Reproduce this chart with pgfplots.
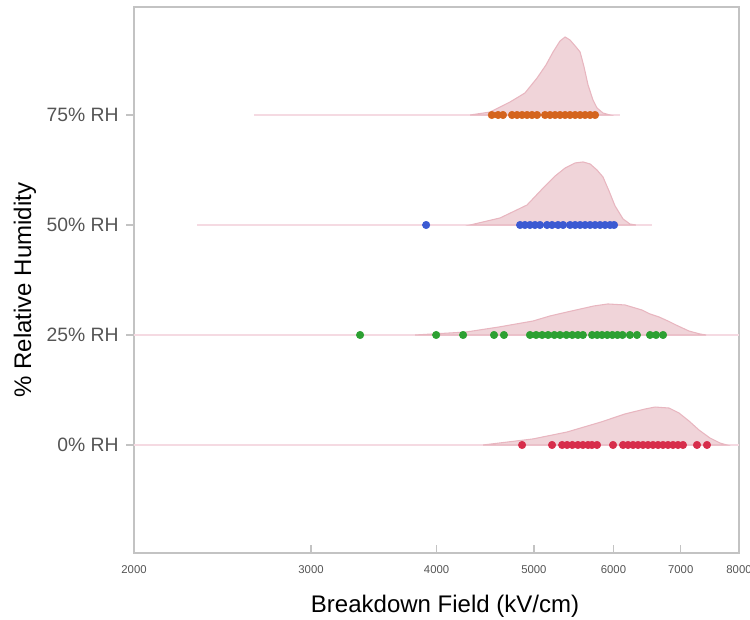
\documentclass[border=0pt]{standalone}
\usepackage{fontspec}
\setmainfont{Liberation Sans}
\usepackage{pgfplots}
\pgfplotsset{compat=1.18}
\definecolor{axgray}{RGB}{195,195,195}
\definecolor{tkgray}{RGB}{85,85,85}
\definecolor{densfill}{RGB}{240,212,217}
\definecolor{densline}{RGB}{232,182,192}
\definecolor{baseln}{RGB}{245,218,226}
\definecolor{corange}{RGB}{212,100,30}
\definecolor{cblue}{RGB}{60,90,210}
\definecolor{cgreen}{RGB}{45,160,50}
\definecolor{cred}{RGB}{215,45,75}
\begin{document}
\begin{tikzpicture}
\useasboundingbox (-100.5pt,-50.25pt) rectangle (462pt,414.75pt);
\begin{axis}[
  at={(0pt,0pt)}, anchor=south west,
  scale only axis, width=453.75pt, height=409.5pt,
  xmode=log, xmin=2000, xmax=8000,
  ymin=-0.982, ymax=3.982,
  xtick={2000,3000,4000,5000,6000,7000,8000},
  xticklabels={2000,3000,4000,5000,6000,7000,8000},
  minor xtick={},
  ytick={0,1,2,3},
  yticklabels={0\% RH,25\% RH,50\% RH,75\% RH},
  xtick pos=bottom, ytick pos=left,
  axis line style={axgray, line width=1.2pt},
  tick style={axgray, line width=1pt},
  major tick length=6pt,
  tick align=outside,
  x tick style={yshift=6pt},
  /pgf/number format/assume math mode=true,
  xticklabel style={font=\fontsize{8.5}{9}\selectfont, text=tkgray, yshift=0pt},
  yticklabel style={font=\fontsize{14.5}{16}\selectfont, text=tkgray, xshift=-2pt},
  xlabel={Breakdown Field (kV/cm)},
  ylabel={\% Relative Humidity},
  xlabel style={at={([yshift=-39.75pt]axis description cs:0.514,0)}, anchor=center, font=\fontsize{18}{20}\selectfont},
  ylabel style={at={([xshift=-81.75pt]axis description cs:0,0.4817)}, anchor=center, font=\fontsize{18}{20}\selectfont},
  clip=true,
]
% baselines
\addplot[baseln, line width=1.5pt] coordinates {(2632,3) (6093,3)};
\addplot[baseln, line width=1.5pt] coordinates {(2311,2) (6553,2)};
\addplot[baseln, line width=1.5pt] coordinates {(2000,1) (8000,1)};
\addplot[baseln, line width=1.5pt] coordinates {(2000,0) (8000,0)};
% densities
\addplot[fill=densfill, draw=densline, line width=0.8pt] coordinates {
(4320,3) (4522,3.027) (4733,3.118) (4898,3.2) (5036,3.336) (5140,3.455) (5224,3.573) (5308,3.673) (5370,3.709) (5431,3.682) (5507,3.618) (5558,3.573) (5609,3.436) (5660,3.273) (5725,3.136) (5778,3.064) (5858,3.018) (5953,3)} -- cycle;
\addplot[fill=densfill, draw=densline, line width=0.8pt] coordinates {
(4320,2) (4627,2.064) (4922,2.182) (5106,2.336) (5248,2.445) (5370,2.518) (5495,2.564) (5596,2.573) (5687,2.555) (5778,2.5) (5858,2.436) (5939,2.309) (6022,2.173) (6133,2.055) (6231,2.009) (6316,2)} -- cycle;
\addplot[fill=densfill, draw=densline, line width=0.8pt] coordinates {
(3808,1) (4280,1.027) (4616,1.073) (4989,1.127) (5188,1.173) (5394,1.209) (5738,1.264) (5924,1.282) (6160,1.273) (6405,1.227) (6524,1.191) (6660,1.164) (6798,1.127) (6924,1.091) (7134,1.036) (7316,1.009) (7418,1)} -- cycle;
\addplot[fill=densfill, draw=densline, line width=0.8pt] coordinates {
(4450,0) (4989,0.055) (5394,0.118) (5831,0.209) (6160,0.282) (6450,0.327) (6600,0.345) (6814,0.336) (6972,0.291) (7134,0.218) (7299,0.136) (7484,0.064) (7659,0.018) (7780,0)} -- cycle;
% points
\addplot[only marks, mark=*, mark size=2.8pt, color=corange] coordinates {
(4540,3) (4606,3) (4658,3) (4755,3) (4810,3) (4866,3) (4922,3) (4978,3) (5036,3)
(5129,3) (5188,3) (5248,3) (5308,3) (5370,3) (5431,3) (5495,3) (5558,3) (5622,3) (5687,3) (5752,3)};
\addplot[only marks, mark=*, mark size=2.8pt, color=cblue] coordinates {
(3906,2) (4844,2) (4898,2) (4955,2) (5012,2) (5070,2) (5152,2) (5212,2) (5284,2) (5346,2)
(5432,2) (5495,2) (5558,2) (5622,2) (5687,2) (5752,2) (5818,2) (5885,2) (5953,2) (6008,2)};
\addplot[only marks, mark=*, mark size=2.8pt, color=cgreen] coordinates {
(3357,1) (3997,1) (4251,1) (4563,1) (4668,1) (4955,1) (5025,1) (5095,1) (5165,1) (5240,1)
(5308,1) (5386,1) (5460,1) (5530,1) (5594,1) (5713,1) (5780,1) (5845,1) (5915,1) (5985,1)
(6055,1) (6125,1) (6230,1) (6332,1) (6524,1) (6615,1) (6722,1)};
\addplot[only marks, mark=*, mark size=2.8pt, color=cred] coordinates {
(4866,0) (5212,0) (5334,0) (5395,0) (5460,0) (5530,0) (5594,0) (5660,0) (5711,0) (5778,0)
(5994,0) (6133,0) (6203,0) (6275,0) (6347,0) (6420,0) (6494,0) (6569,0) (6645,0) (6721,0)
(6798,0) (6877,0) (6956,0) (7036,0) (7266,0) (7434,0)};
\end{axis}
\end{tikzpicture}
\end{document}
